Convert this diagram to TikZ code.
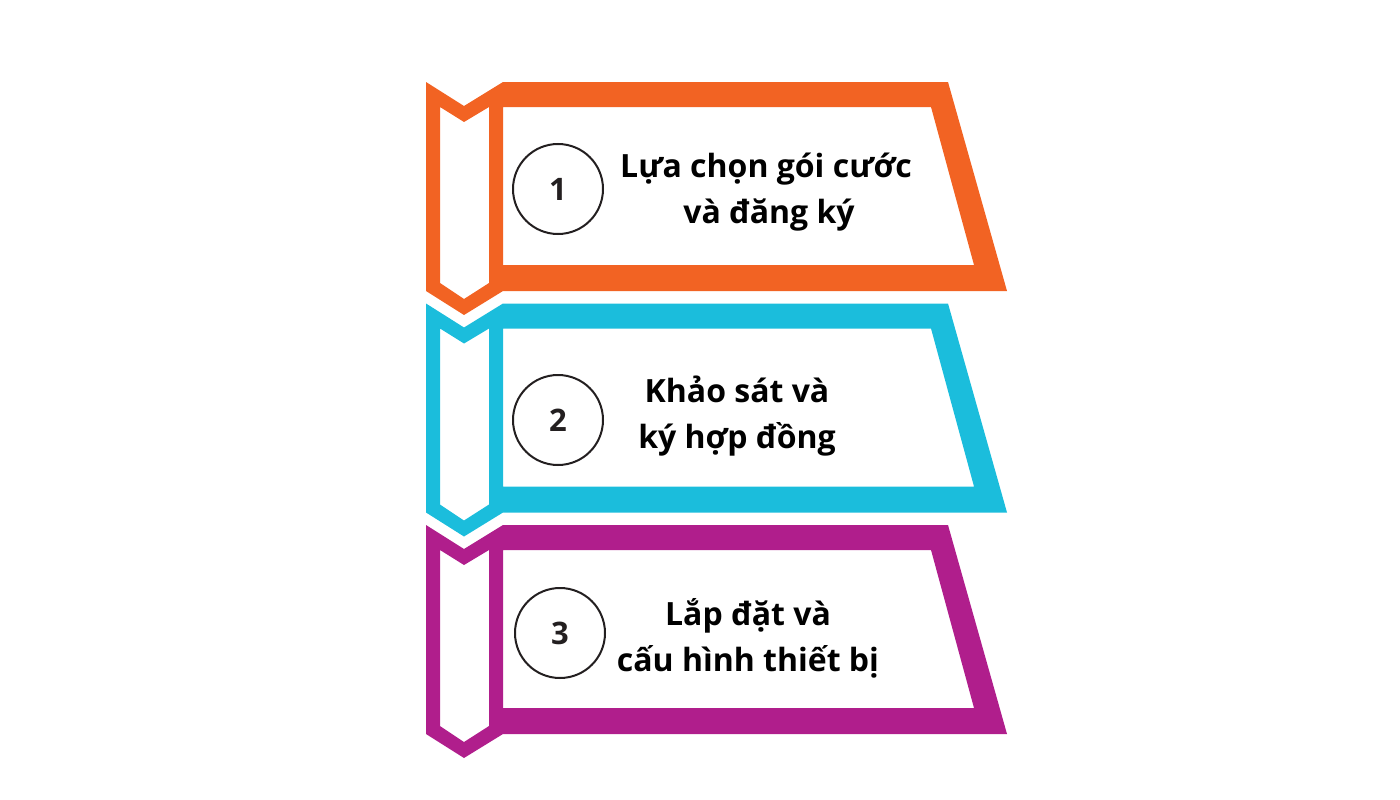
\documentclass[tikz,border=0pt]{standalone}
\usepackage{fontspec}
\setmainfont{Open Sans}
\definecolor{bannerorange}{HTML}{F26323}
\definecolor{bannercyan}{HTML}{1BBDDC}
\definecolor{bannerpurple}{HTML}{B01E8C}
\definecolor{numgray}{HTML}{231F20}
\begin{document}
\begin{tikzpicture}[x=1pt, y=-1pt]
  % Define styles
  \tikzstyle{numcircle} = [circle, draw=numgray, line width=2pt, minimum size=90pt,
                           inner sep=0pt, text=numgray, font=\fontsize{31}{36}\selectfont\bfseries]
  \tikzstyle{steptext} = [align=center, font=\fontsize{32}{46}\selectfont\bfseries]
  \useasboundingbox (0,0) rectangle (1400,800);

  % Banners
  \foreach \col/\dy in {bannerorange/0, bannercyan/221.5, bannerpurple/443}
    \fill[\col, even odd rule, shift={(0,\dy)}]
      (426,82) -- (464,106) -- (503,82) -- (948,82) -- (1007,291) -- (503,291)
        -- (464,315) -- (426,291) -- cycle
      (440,107) -- (464,122) -- (489,107) -- (489,283) -- (464,299) -- (440,283) -- cycle
      (503,107) -- (931,107) -- (974,265) -- (503,265) -- cycle;

  % Nodes
  \node (num1) [numcircle] at (558,189) {1};
  \node (num2) [numcircle] at (558,420) {2};
  \node (num3) [numcircle] at (560,633) {3};
  \node (step1) [steptext] at (766,192) {Lựa chọn gói cước\\\hspace*{6pt}và đăng ký};
  \node (step2) [steptext] at (737,416) {Khảo sát và\\ký hợp đồng};
  \node (step3) [steptext] at (748,638) {Lắp đặt và\\cấu hình thiết bị};
\end{tikzpicture}
\end{document}
